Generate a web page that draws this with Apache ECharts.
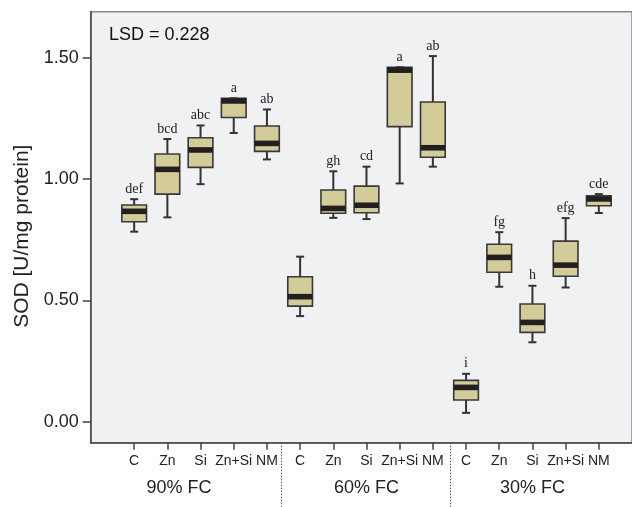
<!DOCTYPE html>
<html><head><meta charset="utf-8">
<script src="https://cdn.jsdelivr.net/npm/echarts@6/dist/echarts.min.js"></script>
<style>html,body{margin:0;padding:0;background:#fff}#c{width:632px;height:507px}</style>
</head><body><div id="c"></div>
<script>
const treatments = ['C','Zn','Si','Zn+Si','NM','C','Zn','Si','Zn+Si','NM','C','Zn','Si','Zn+Si','NM'];
const groups = ['90% FC','60% FC','30% FC'];
const groupCenters = [1.35, 7, 12];
const separators = [4.42, 9.51];
const lowWhisker  = [0.783,0.842,0.979,1.190,1.081, 0.435,0.840,0.835,0.982,1.051, 0.036,0.556,0.327,0.553,0.860];
const q1          = [0.824,0.938,1.048,1.254,1.114, 0.476,0.859,0.861,1.216,1.090, 0.089,0.616,0.368,0.599,0.890];
const median      = [0.867,1.040,1.120,1.322,1.147, 0.515,0.879,0.892,1.449,1.129, 0.141,0.677,0.409,0.645,0.918];
const q3          = [0.893,1.103,1.170,1.333,1.219, 0.597,0.955,0.971,1.461,1.318, 0.170,0.731,0.485,0.744,0.931];
const highWhisker = [0.917,1.165,1.221,1.333,1.287, 0.680,1.032,1.051,1.461,1.507, 0.197,0.781,0.560,0.839,0.938];
const letters = ['def','bcd','abc','a','ab','','gh','cd','a','ab','i','fg','h','efg','cde'];
const yTicks = [0, 0.5, 1.0, 1.5];
const lsdText = 'LSD = 0.228';

const boxData = treatments.map((t, i) => [i, lowWhisker[i], q1[i], median[i], q3[i], highWhisker[i]]);
const catIdx = treatments.map((t, i) => i);

const chart = echarts.init(document.getElementById('c'), null, {renderer: 'canvas'});
const sans = '"Liberation Sans", Arial, sans-serif';
const serif = '"Liberation Serif", "Times New Roman", serif';

chart.setOption({
  animation: false,
  grid: {left: 90.7, top: 11.7, right: -2, bottom: 64.3, show: true,
         backgroundColor: '#f0f1f3', borderColor: '#8a8a8a', borderWidth: 1.5},
  xAxis: [{
    type: 'value', min: -1.31, max: 15, position: 'bottom',
    axisLine: {show: true, onZero: false, lineStyle: {color: '#444', width: 1.5}},
    axisTick: {show: true, customValues: catIdx, length: 7, lineStyle: {color: '#444', width: 1.5}},
    axisLabel: {show: true, customValues: catIdx, formatter: v => treatments[Math.round(v)],
                fontFamily: sans, fontSize: 14, color: '#222', margin: 11},
    splitLine: {show: false}
  }, {
    type: 'value', min: -1.31, max: 15, position: 'bottom', offset: 0,
    axisLine: {show: false, onZero: false},
    axisTick: {show: true, customValues: separators, length: 66,
               lineStyle: {color: '#555', width: 1, type: [1.5, 1.5]}},
    axisLabel: {show: true, customValues: groupCenters,
                formatter: v => groups[groupCenters.indexOf(v)],
                fontFamily: sans, fontSize: 18, color: '#222', margin: 36},
    splitLine: {show: false}
  }],
  yAxis: {
    type: 'value', min: -0.087, max: 1.69,
    name: 'SOD [U/mg protein]', nameLocation: 'middle', nameGap: 58,
    nameTextStyle: {fontFamily: sans, fontSize: 21, color: '#222', padding: [0, 18, 0, 0]},
    axisLine: {show: true, onZero: false, lineStyle: {color: '#444', width: 1.5}},
    axisTick: {show: true, customValues: yTicks, length: 8, lineStyle: {color: '#444', width: 1.5}},
    axisLabel: {show: true, customValues: yTicks, formatter: v => v.toFixed(2),
                fontFamily: sans, fontSize: 18, color: '#222', margin: 12},
    splitLine: {show: false}
  },
  graphic: [{
    type: 'text', left: 109, top: 26,
    style: {text: lsdText, fontFamily: sans, fontSize: 18, fill: '#111'}
  }],
  series: [{
    type: 'custom',
    xAxisIndex: 0,
    data: boxData,
    encode: {x: 0, y: [1, 2, 3, 4, 5]},
    clip: false,
    renderItem: function (params, api) {
      const x = api.value(0);
      const pLow = api.coord([x, api.value(1)]);
      const pQ1 = api.coord([x, api.value(2)]);
      const pMed = api.coord([x, api.value(3)]);
      const pQ3 = api.coord([x, api.value(4)]);
      const pHigh = api.coord([x, api.value(5)]);
      const cx = pMed[0];
      const half = api.size([1, 0])[0] * 0.372;
      const cap = 4;
      const lineStyle = {stroke: '#333', lineWidth: 2};
      const children = [
        {type: 'line', shape: {x1: cx, y1: pQ3[1], x2: cx, y2: pHigh[1]}, style: lineStyle},
        {type: 'line', shape: {x1: cx, y1: pQ1[1], x2: cx, y2: pLow[1]}, style: lineStyle},
        {type: 'line', shape: {x1: cx - cap, y1: pHigh[1], x2: cx + cap, y2: pHigh[1]}, style: lineStyle},
        {type: 'line', shape: {x1: cx - cap, y1: pLow[1], x2: cx + cap, y2: pLow[1]}, style: lineStyle},
        {type: 'rect', shape: {x: cx - half, y: pQ3[1], width: 2 * half, height: pQ1[1] - pQ3[1]},
         style: {fill: '#d3cc98', stroke: '#383838', lineWidth: 1.6}},
        {type: 'rect', shape: {x: cx - half, y: pMed[1] - 2.8, width: 2 * half, height: 5.6},
         style: {fill: '#231f20'}}
      ];
      const lt = letters[params.dataIndex];
      if (lt) {
        children.push({type: 'text', x: cx, y: pHigh[1] - 10,
          style: {text: lt, fontFamily: serif, fontSize: 14, fill: '#222',
                  align: 'center', verticalAlign: 'middle'}});
      }
      return {type: 'group', children: children};
    }
  }]
});
</script>
</body></html>
